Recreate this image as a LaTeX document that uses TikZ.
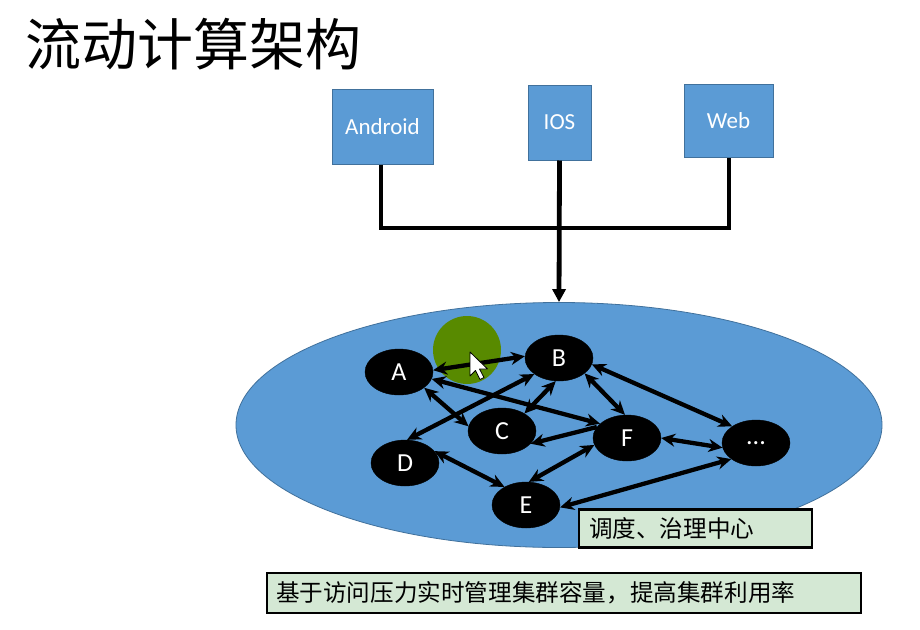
\documentclass[tikz,border=0pt]{standalone}
\usepackage{fontspec}
\setmainfont{Carlito}
\newfontfamily\cjk{Noto Sans CJK SC}
\usetikzlibrary{arrows.meta,shapes.geometric}
\definecolor{boxblue}{RGB}{91,155,213}
\definecolor{boxedge}{RGB}{65,113,156}
\definecolor{labgreen}{RGB}{212,232,212}
\definecolor{hlgreen}{RGB}{88,138,0}
\tikzset{
  appbox/.style={draw=boxedge,line width=1pt,fill=boxblue,text=white,font=\fontsize{23}{26}\selectfont,inner sep=0pt},
  pnode/.style={ellipse,fill=black,draw=black,text=white,minimum width=68pt,minimum height=46pt,inner sep=0pt,font=\fontsize{26}{28}\selectfont},
  edge2/.style={line width=4.3pt,{Stealth[length=14pt,width=13pt]}-{Stealth[length=14pt,width=13pt]}},
  edge1/.style={line width=4.3pt,{Stealth[length=14pt,width=13pt]}-},
  wire/.style={line width=4.8pt},
  labbox/.style={draw=black,line width=2.2pt,fill=labgreen,font=\cjk\fontsize{23.6}{26}\selectfont,anchor=west,inner sep=0pt,align=left}
}
\begin{document}
\begin{tikzpicture}[x=1pt,y=-1pt]
\useasboundingbox (0,0) rectangle (920,629);
\fill[white] (0,0) rectangle (920,629);
% title
\node[anchor=west,inner sep=0pt,font=\cjk\fontsize{56}{60}\selectfont] (title) at (25,44) {流动计算架构};
% app boxes
\node[appbox,minimum width=101pt,minimum height=75pt] (android) at (382.5,126.5) {Android};
\node[appbox,minimum width=63pt,minimum height=75pt] (ios) at (559.5,122.5) {IOS};
\node[appbox,minimum width=89pt,minimum height=73pt] (web) at (728.5,120.5) {Web};
% center ellipse
\node[ellipse,draw=boxedge,line width=0.8pt,fill=boxblue,minimum width=646pt,minimum height=245pt,inner sep=0pt] (center) at (559,425) {};
% wires
\coordinate (jl) at (381,228);
\coordinate (jr) at (729,228);
\draw[wire] (android.south -| jl) -- (jl) -- (jr) -- (web.south -| jr);
\draw[wire,-{Triangle[length=13pt,width=13pt]}] (ios.south) -- (center.north);
% highlight
\fill[hlgreen] (467,350) circle (34);
% process nodes
\node[pnode] (A) at (399,372) {A};
\node[pnode] (B) at (559,358) {B};
\node[pnode] (C) at (502,431) {C};
\node[pnode] (D) at (405,463) {D};
\node[pnode] (E) at (526,505) {E};
\node[pnode] (F) at (627,438) {F};
\node[pnode] (G) at (756,443) {...};
% edges
\draw[edge2] (A.3) -- (B.177);
\draw[edge2] (A.-12) -- (F.152);
\draw[edge2] (A.-32) -- (C.172);
\draw[edge2] (B.213) -- (D.85);
\draw[edge2] (B.262) -- (C.38);
\draw[edge1] (C.-24) -- (F.160);
\draw[edge2] (D.22) -- (E.140);
\draw[edge2] (E.83) -- (F.192);
\draw[edge2] (B.-31) -- (F.95);
\draw[edge2] (B.-11) -- (G.145);
\draw[edge2] (F.0) -- (G.188);
\draw[edge2] (E.-4) -- (G.213);
% cursor
\draw[black,fill=white,line width=0.8pt,line join=round] (470,352) -- ++(0,24) -- ++(5.5,-5.5) -- ++(4.5,9) -- ++(4,-2) -- ++(-4.5,-8.5) -- ++(8,0) -- cycle;
% labels
\node[labbox,minimum width=233pt,minimum height=38pt,text width=233pt] (gov) at (578,528.5) {\hspace*{10pt}调度、治理中心};
\node[labbox,minimum width=594pt,minimum height=40pt,text width=594pt] (cap) at (266,593) {\hspace*{9pt}基于访问压力实时管理集群容量，提高集群利用率};
\end{tikzpicture}
\end{document}
